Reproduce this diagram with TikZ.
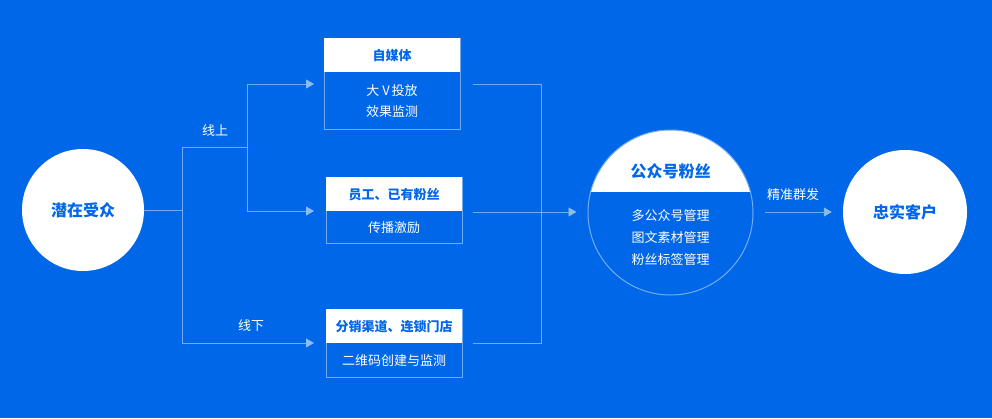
\documentclass[tikz,border=0pt]{standalone}
\usepackage{fontspec}
\setmainfont{Noto Sans CJK SC}
\usetikzlibrary{arrows.meta,positioning}
\definecolor{bgblue}{HTML}{0067E8}
\definecolor{linec}{HTML}{74ACF3}
\definecolor{arrc}{HTML}{8CBCF6}
\tikzset{
  conn/.style={draw=linec,line width=0.9pt},
  arr/.style={conn,-{Triangle[length=8pt,width=9pt,fill=arrc,color=arrc]}},
  bigcirc/.style={circle,fill=white,minimum size=#1,inner sep=0pt,text=bgblue,font=\fontsize{16}{19}\selectfont\bfseries},
  head/.style={fill=white,text=bgblue,inner sep=0pt,font=\fontsize{13}{16}\selectfont\bfseries},
  body/.style={draw=linec,line width=0.9pt,inner sep=0pt,text=white,font=\fontsize{13}{21}\selectfont,align=center},
  lbl/.style={text=white,font=\fontsize{13}{16}\selectfont,inner sep=0pt},
}
\begin{document}
\begin{tikzpicture}[x=1pt,y=-1pt]
\fill[bgblue] (0,0) rectangle (992,418);
\useasboundingbox (0,0) rectangle (992,418);

% left circle
\node[bigcirc=122pt] (src) at (83,210) {潜在受众};

% box 1
\node[body,minimum width=136pt,minimum height=91pt,anchor=north west] (b1) at (324,38) {};
\node[head,minimum width=136pt,minimum height=34pt,anchor=north west] (h1) at (324,38) {自媒体};
\node[lbl,align=center,font=\fontsize{13}{21.5}\selectfont] (t1) at (392,101) {大\kern3pt V\kern2pt 投放\\效果监测};

% box 2
\node[body,minimum width=136pt,minimum height=66pt,anchor=north west] (b2) at (326,177) {};
\node[head,minimum width=136pt,minimum height=34pt,anchor=north west] (h2) at (326,177) {员工、已有粉丝};
\node[lbl] (t2) at (394,227.5) {传播激励};

% box 3
\node[body,minimum width=136pt,minimum height=68pt,anchor=north west] (b3) at (326,309) {};
\node[head,minimum width=136pt,minimum height=34pt,anchor=north west] (h3) at (326,309) {分销渠道、连锁门店};
\node[lbl] (t3) at (394,360.5) {二维码创建与监测};

% middle circle
\begin{scope}
  \clip (670.5,212.5) circle (82.5pt);
  \fill[white] (580,120) rectangle (760,192);
\end{scope}
\node[circle,draw=linec,line width=1pt,minimum size=165pt,inner sep=0pt] (mid) at (670.5,212.5) {};
\node[text=bgblue,font=\fontsize{16}{19}\selectfont\bfseries,inner sep=0pt] (midt) at (670.5,171.5) {公众号粉丝};
\node[lbl,align=center,font=\fontsize{13}{22}\selectfont] (midb) at (670.5,238) {多公众号管理\\图文素材管理\\粉丝标签管理};

% right circle
\node[bigcirc=124pt] (dst) at (905,212) {忠实客户};

% left connectors
\coordinate (j1) at (182,210);
\coordinate (jt) at (182,147);
\coordinate (jb) at (182,343);
\coordinate (k1) at (247,147);
\coordinate (kt) at (247,84);
\coordinate (kb) at (247,211);
\draw[conn] (src.east) -- (j1);
\draw[conn] (jt) -- (jb);
\draw[conn] (jt) -- (k1);
\draw[conn] (kt) -- (kb);
\draw[arr,shorten >=10pt] (kt) -- (b1.west |- kt);
\draw[arr,shorten >=12pt] (kb) -- (b2.west |- kb);
\draw[arr,shorten >=12pt] (jb) -- (b3.west |- jb);
\node[lbl] (on) at (215,131) {线上};
\node[lbl] (off) at (251,326) {线下};

% right connectors
\coordinate (r1) at (473,84);
\coordinate (r2) at (473,212);
\coordinate (r3) at (473,343);
\coordinate (v1) at (541,84);
\coordinate (v3) at (541,343);
\draw[conn] (r1) -- (v1) -- (v3) -- (r3);
\draw[arr,shorten >=11pt] (r2) -- (mid.west |- r2);

% final arrow
\coordinate (f1) at (765,212);
\draw[arr,shorten >=11pt] (f1) -- (dst.west |- f1);
\node[lbl] (push) at (793,195) {精准群发};
\end{tikzpicture}
\end{document}
